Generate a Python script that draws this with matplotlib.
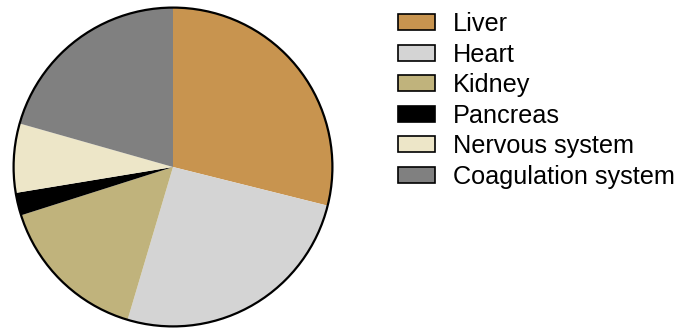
import matplotlib
matplotlib.use('Agg')
import matplotlib.pyplot as plt
from matplotlib.patches import Patch, Circle

## Data
organs = ['Liver', 'Heart', 'Kidney', 'Pancreas', 'Nervous system', 'Coagulation system']
shares = [28.9, 25.7, 15.5, 2.3, 7.0, 20.6]
colors = ['#C8944F', '#D4D4D4', '#C0B37C', '#000000', '#EDE6C8', '#808080']

plt.rcParams['font.family'] = ['Liberation Sans', 'DejaVu Sans']

fig = plt.figure(figsize=(6.83, 3.29), dpi=100)

# pie axes: centre ~ (173, 167) px, radius ~161 px
ax = fig.add_axes([12 / 683, 1 / 329, 322 / 683, 322 / 329])
ax.pie(shares, colors=colors, startangle=90, counterclock=False,
       radius=1, wedgeprops=dict(edgecolor='none'))
ax.add_patch(Circle((0, 0), 1, fill=False, edgecolor='black', linewidth=1.6))
ax.set_xlim(-1.01, 1.01)
ax.set_ylim(-1.01, 1.01)
ax.set_aspect('equal')
ax.axis('off')

# legend with outlined swatches
handles = [Patch(facecolor=c, edgecolor='black', linewidth=1.2) for c in colors]
fig.legend(handles, organs, loc='upper left', bbox_to_anchor=(398 / 683, 1 - 12 / 329),
           frameon=False, fontsize=18.2, handlelength=1.46, handleheight=0.6,
           handletextpad=0.7, labelspacing=0.26, borderpad=0, borderaxespad=0)

fig.savefig('out.png', dpi=100)
